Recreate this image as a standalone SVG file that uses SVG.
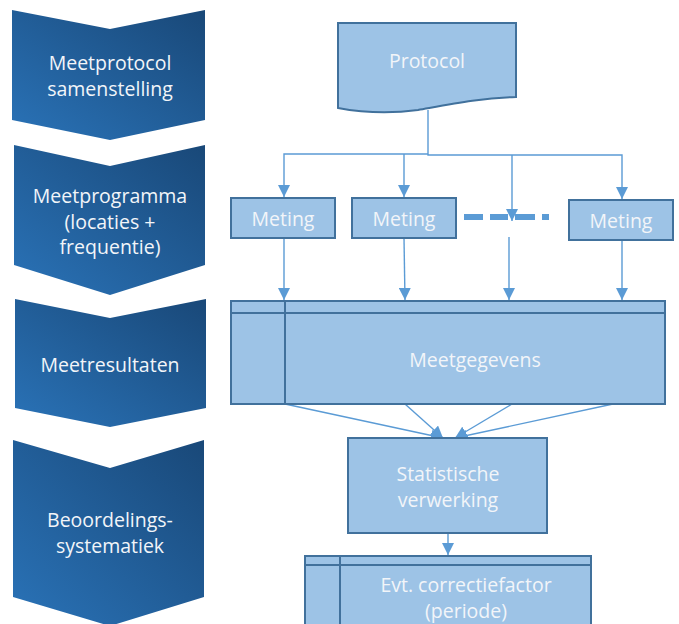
<svg xmlns="http://www.w3.org/2000/svg" width="679" height="624" viewBox="0 0 679 624">
<defs>
<linearGradient id="chev" x1="0" y1="1" x2="1" y2="0">
<stop offset="0" stop-color="#2a73b8"/>
<stop offset="1" stop-color="#194878"/>
</linearGradient>
<marker id="arr" markerUnits="userSpaceOnUse" markerWidth="12" markerHeight="12" viewBox="0 0 10 10" refX="10" refY="5" orient="auto">
<path d="M0,0 L10,5 L0,10 z" fill="#5b9bd5"/>
</marker>
<style>
.chev{fill:url(#chev)}
.box{fill:#9dc3e6;stroke:#41719c;stroke-width:2}
.inner{fill:none;stroke:#41719c;stroke-width:2}
.con{fill:none;stroke:#5b9bd5;stroke-width:1.4;marker-end:url(#arr)}
text{font-family:"Open Sans","Liberation Sans",sans-serif;font-size:19.5px;fill:#f2f5f9;text-anchor:middle}
</style>
</defs>
<g id="chevron1">
<path class="chev" d="M12,10 L110,29 L205,10 L205,120 L110,140 L12,120 Z"/>
<text x="110" y="70">Meetprotocol</text>
<text x="110" y="96">samenstelling</text>
</g>
<g id="chevron2">
<path class="chev" d="M14,145 L110,166 L205,145 L205,265 L110,295 L14,265 Z"/>
<text x="110" y="203">Meetprogramma</text>
<text x="110" y="229">(locaties +</text>
<text x="110" y="254">frequentie)</text>
</g>
<g id="chevron3">
<path class="chev" d="M15,299 L110,318 L206,299 L206,408 L110,427 L15,408 Z"/>
<text x="110" y="372">Meetresultaten</text>
</g>
<g id="chevron4">
<path class="chev" d="M13,440 L110,468 L204,440 L204,597 L110,626 L13,597 Z"/>
<text x="110" y="527">Beoordelings-</text>
<text x="110" y="553">systematiek</text>
</g>
<g id="connectors">
<path class="con" d="M428,110 V154 H284 V197"/>
<path class="con" d="M404,154 V197"/>
<path class="con" d="M428,154 V155 H622 V199"/>
<path class="con" d="M512,155 V221"/>
<path class="con" d="M284,238 V300"/>
<path class="con" d="M404,238 L405,300"/>
<path class="con" d="M509,237 V300"/>
<path class="con" d="M622,240 V300"/>
<path class="con" d="M285,404 L443,438"/>
<path class="con" d="M405,404 L443,438"/>
<path class="con" d="M512,404 L455,438"/>
<path class="con" d="M613,404 L455,438"/>
<path class="con" d="M448,533 V555"/>
<path d="M464,217 H549" fill="none" stroke="#5b9bd5" stroke-width="6" stroke-dasharray="19,7,18,7,20,7,7,100"/>
</g>
<g id="protocol">
<path class="box" d="M338,23 H516 V97 C482,98 452,104 418,110 C396,113 370,114 338,108 Z"/>
<text x="427" y="68">Protocol</text>
</g>
<g id="meting1">
<rect class="box" x="231" y="198" width="104" height="40"/>
<text x="283" y="226">Meting</text>
</g>
<g id="meting2">
<rect class="box" x="352" y="198" width="104" height="40"/>
<text x="404" y="226">Meting</text>
</g>
<g id="meting3">
<rect class="box" x="569" y="200" width="104" height="40"/>
<text x="621" y="228">Meting</text>
</g>
<g id="meetgegevens">
<rect class="box" x="231" y="301" width="434" height="103"/>
<path class="inner" d="M231,313 H665 M285,301 V404"/>
<text x="475" y="367">Meetgegevens</text>
</g>
<g id="statistische">
<rect class="box" x="348" y="438" width="199" height="95"/>
<text x="448" y="481">Statistische</text>
<text x="448" y="507">verwerking</text>
</g>
<g id="correctiefactor">
<rect class="box" x="305" y="556" width="286" height="80"/>
<path class="inner" d="M305,565 H591 M340,556 V636"/>
<text x="466" y="592">Evt. correctiefactor</text>
<text x="466" y="618">(periode)</text>
</g>
</svg>
